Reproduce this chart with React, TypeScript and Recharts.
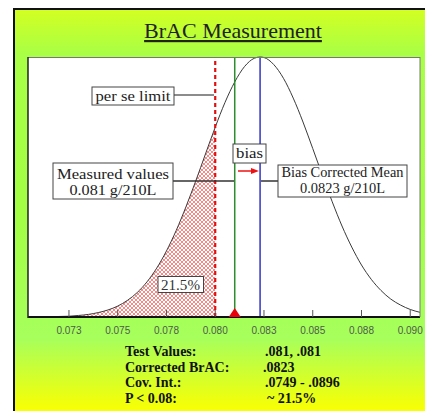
import {
  Area,
  CartesianGrid,
  ComposedChart,
  Line,
  ReferenceDot,
  ReferenceLine,
  XAxis,
  YAxis,
} from "recharts";

// BrAC values (g/210L) and relative density
const brac = [
  0.0705, 0.071, 0.0715, 0.072, 0.0725, 0.073, 0.0735, 0.074, 0.0745, 0.075,
  0.0755, 0.076, 0.0765, 0.077, 0.0775, 0.078, 0.0785, 0.079, 0.0795, 0.08,
  0.0805, 0.081, 0.0815, 0.082, 0.0823, 0.0825, 0.083, 0.0835, 0.084, 0.0845,
  0.085, 0.0855, 0.086, 0.0865, 0.087, 0.0875, 0.088, 0.0885, 0.089, 0.0895,
  0.09, 0.0905,
];
const density = [
  0.0, 0.001, 0.001, 0.002, 0.003, 0.006, 0.01, 0.017, 0.027, 0.042,
  0.064, 0.094, 0.135, 0.188, 0.254, 0.333, 0.424, 0.523, 0.627, 0.73,
  0.825, 0.904, 0.963, 0.995, 1.0, 0.998, 0.971, 0.918, 0.842, 0.75,
  0.648, 0.544, 0.443, 0.35, 0.269, 0.2, 0.145, 0.102, 0.069, 0.046,
  0.029, 0.018,
];

const perSeLimit = 0.08;
const measured = 0.081;
const correctedMean = 0.0823;

const tickValues = [0.0725, 0.075, 0.0775, 0.08, 0.0825, 0.085, 0.0875, 0.09];
const tickLabels = ["0.073", "0.075", "0.078", "0.080", "0.083", "0.085", "0.088", "0.090"];

const statLabels = ["Test Values:", "Corrected BrAC:", "Cov. Int.:", "P < 0.08:"];
const statValues = [".081, .081", ".0823", ".0749 - .0896", "~ 21.5%"];
const statValueX = [265, 263, 265, 267];

const rows = brac.map((x, i) => ({
  x,
  y: density[i],
  shade: x <= perSeLimit ? density[i] : null,
}));

const serif = "'Liberation Serif', 'DejaVu Serif', serif";

function AxisTick({ x, y, payload }: any) {
  const i = tickValues.indexOf(payload.value);
  return (
    <g>
      <line x1={x} x2={x} y1={y} y2={y - 7} stroke="#555" strokeWidth={1} />
      <text
        x={x}
        y={y + 17}
        textAnchor="middle"
        fontSize={10}
        fontFamily="'Liberation Sans', Arial, sans-serif"
        fill="#4f5a4c"
      >
        {tickLabels[i] ?? ""}
      </text>
    </g>
  );
}

function Triangle({ cx, cy }: any) {
  return (
    <polygon
      points={`${cx - 6},${cy} ${cx + 6},${cy} ${cx},${cy - 9}`}
      fill="#e8000b"
    />
  );
}

function Box({ x, y, w, h }: { x: number; y: number; w: number; h: number }) {
  return <rect x={x} y={y} width={w} height={h} fill="#fff" stroke="#444" strokeWidth={1} />;
}

function Label({ x, y, w, children, size = 15, fill = "#222" }: any) {
  return (
    <text
      x={x}
      y={y}
      textAnchor="middle"
      fontSize={size}
      fontFamily={serif}
      fill={fill}
      textLength={w}
      lengthAdjust="spacingAndGlyphs"
    >
      {children}
    </text>
  );
}

function Overlay() {
  return (
    <svg
      width={425}
      height={411}
      style={{ position: "absolute", left: 0, top: 0, pointerEvents: "none" }}
    >
      {/* plot frame */}
      <line x1={28} x2={420} y1={57.5} y2={57.5} stroke="#777" />
      <line x1={420} x2={420} y1={57} y2={317} stroke="#777" />
      <line x1={28} x2={28} y1={57} y2={318} stroke="#222" strokeWidth={1.5} />

      <text
        x={233}
        y={38}
        textAnchor="middle"
        fontSize={22}
        textDecoration="underline"
        fontFamily={serif}
        fill="#222"
      >
        BrAC Measurement
      </text>

      {/* per se limit */}
      <line x1={174} x2={214} y1={95} y2={95} stroke="#666" strokeWidth={1.5} />
      <Box x={92} y={87} w={82} h={18} />
      <Label x={133} y={100.5} w={75}>per se limit</Label>

      {/* bias */}
      <Box x={233} y={144} w={33} h={19} />
      <Label x={249.5} y={158} w={27}>bias</Label>
      <line x1={238} x2={252} y1={171} y2={171} stroke="#ee1111" strokeWidth={1.5} />
      <polygon points="251,168 259,171 251,174" fill="#ee1111" />

      {/* measured values */}
      <line x1={173} x2={234} y1={181} y2={181} stroke="#333" strokeWidth={1.5} />
      <Box x={53} y={163} w={120} h={36} />
      <Label x={113} y={178.5} w={112}>Measured values</Label>
      <Label x={113} y={194.5} w={87}>0.081 g/210L</Label>

      {/* bias corrected mean */}
      <line x1={261} x2={278} y1={181} y2={181} stroke="#333" strokeWidth={1.5} />
      <Box x={278} y={165} w={129} h={32} />
      <Label x={342.5} y={177} w={122}>Bias Corrected Mean</Label>
      <Label x={342.5} y={193} w={85}>0.0823 g/210L</Label>

      {/* tail percentage */}
      <Box x={158} y={276.5} w={45.5} h={16} />
      <Label x={180.5} y={289.5} w={39} fill="#333">21.5%</Label>

      {/* summary */}
      {statLabels.map((s, i) => (
        <g key={s}>
          <text x={125} y={356 + i * 15.5} fontSize={14} fontWeight="bold" fontFamily={serif} fill="#111">
            {s}
          </text>
          <text x={statValueX[i]} y={356 + i * 15.5} fontSize={14} fontWeight="bold" fontFamily={serif} fill="#111">
            {statValues[i]}
          </text>
        </g>
      ))}
    </svg>
  );
}

export default function App() {
  return (
    <div style={{ position: "absolute", left: 0, top: 0, width: 425, height: 411, overflow: "hidden", background: "#fff" }}>
      <div
        style={{
          position: "absolute",
          left: 13,
          top: 8,
          width: 420,
          height: 410,
          borderLeft: "2px solid #111",
          borderTop: "2px solid #111",
          background:
            "linear-gradient(to bottom, #d2ff22 0%, #a8ff46 11%, #a2ff44 50%, #a6ff5c 80%, #ccff33 88%, #f2ff0a 96%, #ffff00 100%)",
        }}
      />
      <ComposedChart
        width={425}
        height={411}
        data={rows}
        margin={{ top: 57, right: 5, bottom: 64, left: 28 }}
        style={{ position: "absolute", left: 0, top: 0 }}
      >
        <defs>
          <pattern id="hatch" width={4} height={4} patternUnits="userSpaceOnUse">
            <rect width={4} height={4} fill="#fff" />
            <path d="M0,0 L4,4 M4,0 L0,4" stroke="#ec3c3c" strokeWidth={0.6} />
          </pattern>
        </defs>
        <CartesianGrid fill="#fff" horizontal={false} vertical={false} />
        <XAxis
          dataKey="x"
          type="number"
          domain={[0.0704, 0.0905]}
          ticks={tickValues}
          interval={0}
          allowDataOverflow
          height={30}
          tickSize={0}
          tickMargin={0}
          tickLine={false}
          axisLine={{ stroke: "#111", strokeWidth: 2 }}
          tick={<AxisTick />}
        />
        <YAxis type="number" domain={[0, 1]} hide />
        <Area
          dataKey="shade"
          type="monotone"
          fill="url(#hatch)"
          fillOpacity={1}
          stroke="none"
          isAnimationActive={false}
          connectNulls={false}
        />
        <Line
          dataKey="y"
          type="monotone"
          stroke="#3a3a3a"
          strokeWidth={1}
          dot={false}
          isAnimationActive={false}
        />
        <ReferenceLine x={perSeLimit} stroke="#e01010" strokeWidth={2.2} strokeDasharray="4 3" />
        <ReferenceLine x={measured} stroke="#2e8b2e" strokeWidth={1.5} />
        <ReferenceLine x={correctedMean} stroke="#3535c0" strokeWidth={1.5} />
        <ReferenceDot x={measured} y={0} r={6} shape={<Triangle />} ifOverflow="visible" />
      </ComposedChart>
      <Overlay />
    </div>
  );
}
